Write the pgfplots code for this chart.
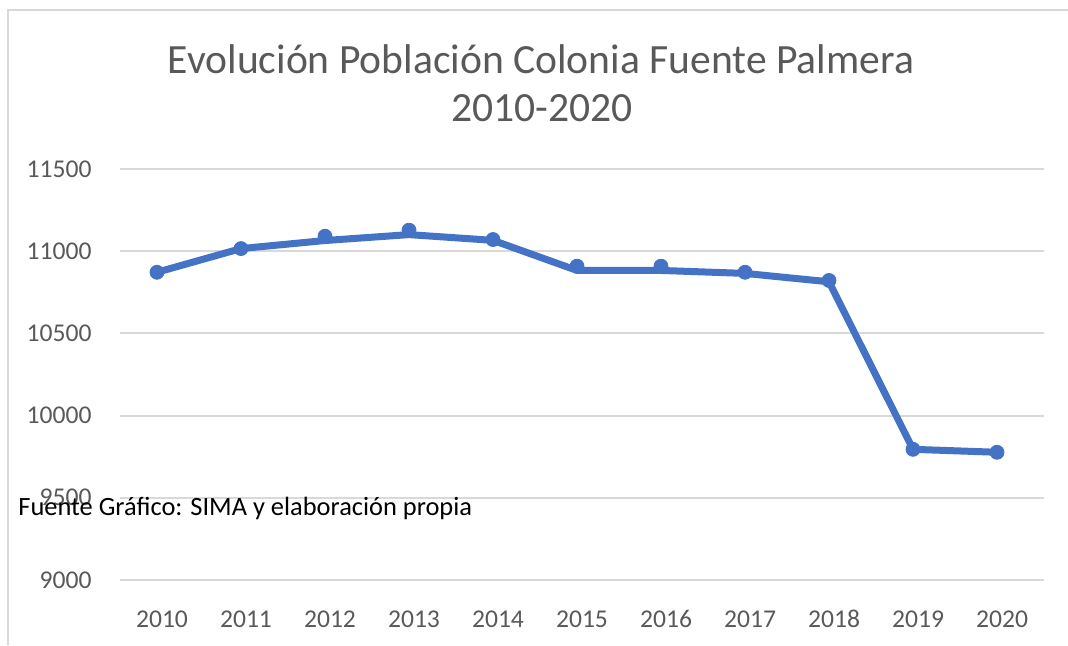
\documentclass[border=0pt]{standalone}
\usepackage{pgfplots}
\pgfplotsset{compat=1.18}
\usepackage{fontspec}
\setmainfont{Carlito}
\definecolor{txtgray}{HTML}{595959}
\definecolor{gridgray}{HTML}{D9D9D9}
\definecolor{serie}{HTML}{4472C4}

\begin{document}
\begin{tikzpicture}[x=1pt,y=1pt]
% page is 1068x645 px at 0.5pt per px
\useasboundingbox (0,0) rectangle (534,322.5);
\draw[gridgray,line width=1pt] (4,0) -- (4,317.5) -- (534,317.5);

\node[txtgray,font=\fontsize{20.8}{24}\selectfont,anchor=base] at (270.5,286) {Evolución Población Colonia Fuente Palmera};
\node[txtgray,font=\fontsize{20.8}{24}\selectfont,anchor=base] at (271,262) {2010-2020};

\begin{axis}[
    at={(60pt,32.5pt)}, anchor=south west,
    scale only axis,
    width=462pt, height=205.5pt,
    xmin=-0.5, xmax=10.5,
    ymin=9000, ymax=11500,
    xtick={0,...,10},
    xticklabels={2010,2011,2012,2013,2014,2015,2016,2017,2018,2019,2020},
    ytick={9000,9500,...,11500},
    scaled y ticks=false,
    yticklabel={\pgfmathprintnumber[fixed,precision=0,1000 sep={}]{\tick}},
    axis line style={draw=none},
    major tick length=0pt,
    ymajorgrids,
    grid style={gridgray,line width=1pt},
    tick label style={txtgray,font=\fontsize{12.8}{14}\selectfont,inner sep=0pt},
    /pgf/number format/assume math mode=true,
    yticklabel style={anchor=base east,xshift=-14pt,yshift=-4pt},
    xticklabel style={anchor=base,yshift=-23.5pt},
    clip=false,
]
% line as drawn
\addplot[serie,line width=3.5pt,line join=round,no marks,xshift=-2.5pt] coordinates {
(0,10872)(1,11016)(2,11065)(3,11101)(4,11066)(5,10883)(6,10883)(7,10865)(8,10814)(9,9795)(10,9777)};
% markers
\addplot[only marks,mark=*,mark size=3.5pt,serie,mark options={fill=serie,draw=serie},xshift=-2.5pt] coordinates {
(0,10872)(1,11016)(2,11091)(3,11128)(4,11071)(5,10909)(6,10909)(7,10872)(8,10822)(9,9795)(10,9777)};
\end{axis}

\node[black,font=\fontsize{13.2}{15}\selectfont,anchor=base west,inner sep=0pt] at (9,65) {Fuente Gráfico: SIMA y elaboración propia};
\end{tikzpicture}
\end{document}
